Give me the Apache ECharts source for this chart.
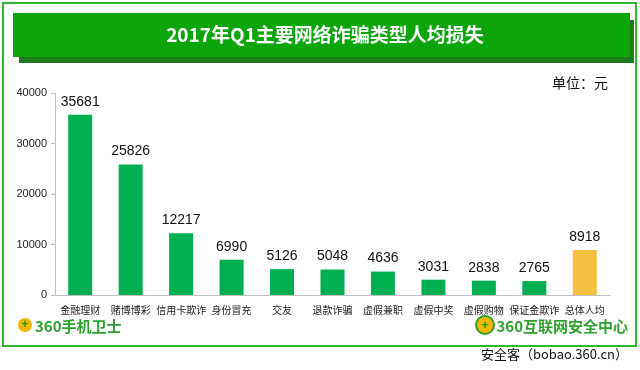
<!DOCTYPE html>
<html><head><meta charset="utf-8">
<script src="https://cdn.jsdelivr.net/npm/echarts@6/dist/echarts.min.js"></script>
<style>html,body{margin:0;padding:0;background:#fff}#c{width:640px;height:370px}</style>
</head><body><div id="c"></div>
<script>
const categories = ['金融理财','赌博博彩','信用卡欺诈','身份冒充','交友','退款诈骗','虚假兼职','虚假中奖','虚假购物','保证金欺诈','总体人均'];
const values = [35681,25826,12217,6990,5126,5048,4636,3031,2838,2765,8918];
const highlightIndex = 10;
const yTicks = [0,10000,20000,30000,40000];
const titleText = '2017年Q1主要网络诈骗类型人均损失';
const unitText = '单位：元';

const font = '"Noto Sans CJK SC","Microsoft YaHei",sans-serif';
const chart = echarts.init(document.getElementById('c'));
chart.setOption({
  animation:false,
  backgroundColor:'#fff',
  grid:{left:55,right:30,top:93,bottom:75,containLabel:false},
  xAxis:{type:'category',data:categories,
    axisLine:{lineStyle:{color:'#bfbfbf',width:1}},axisTick:{show:false},
    axisLabel:{color:'#222',fontSize:10,fontFamily:font,interval:0,margin:10}},
  yAxis:{type:'value',min:yTicks[0],max:yTicks[yTicks.length-1],interval:10000,
    axisLine:{show:true,lineStyle:{color:'#bfbfbf'}},axisTick:{show:true,length:4,lineStyle:{color:'#bfbfbf'}},
    splitLine:{show:false},
    axisLabel:{color:'#222',fontSize:11,fontFamily:'Arial,"Liberation Sans",sans-serif',margin:8,formatter:v=>String(v)}},
  series:[{type:'bar',barWidth:24,
    data:values.map((v,i)=>({value:v,itemStyle:{color:i===highlightIndex?'#f4c142':'#00b050'}})),
    label:{show:true,position:'top',distance:6,color:'#111',fontSize:14,fontFamily:'Arial,"Liberation Sans",sans-serif'}}],
  graphic:[
    {type:'rect',shape:{x:3,y:3,width:633,height:343},style:{fill:'none',stroke:'#2eb82e',lineWidth:2},z:-10},
    {type:'rect',shape:{x:19,y:20,width:615,height:43},style:{fill:'#1c7a1c'},z:1},
    {type:'rect',shape:{x:13,y:13,width:617,height:44},style:{fill:'#0ca60c'},z:2},
    {type:'text',x:325,y:35,style:{text:titleText,fill:'#fff',font:'bold 19px '+font,textAlign:'center',textVerticalAlign:'middle'},z:3},
    {type:'text',x:608,y:83,style:{text:unitText,fill:'#111',font:'14px '+font,textAlign:'right',textVerticalAlign:'middle'},z:3},
    {type:'circle',shape:{cx:25,cy:325,r:7},style:{fill:'#f2b705'},z:3},
    {type:'text',x:25,y:325,style:{text:'+',fill:'#1a9a1a',font:'bold 12px Arial',textAlign:'center',textVerticalAlign:'middle'},z:4},
    {type:'text',x:35,y:326,style:{text:'360手机卫士',fill:'#2ea02e',font:'bold 15px '+font,textAlign:'left',textVerticalAlign:'middle'},z:3},
    {type:'circle',shape:{cx:485,cy:325,r:9},style:{fill:'#f2b705',stroke:'#2ea02e',lineWidth:2},z:3},
    {type:'text',x:485,y:325,style:{text:'+',fill:'#1a9a1a',font:'bold 13px Arial',textAlign:'center',textVerticalAlign:'middle'},z:4},
    {type:'text',x:628,y:326,style:{text:'360互联网安全中心',fill:'#2ea02e',font:'bold 15px '+font,textAlign:'right',textVerticalAlign:'middle'},z:3},
    {type:'text',x:628,y:354,style:{text:'安全客（bobao.360.cn）',fill:'#111',font:'13px '+font,textAlign:'right',textVerticalAlign:'middle'},z:3}
  ]
});
</script></body></html>
